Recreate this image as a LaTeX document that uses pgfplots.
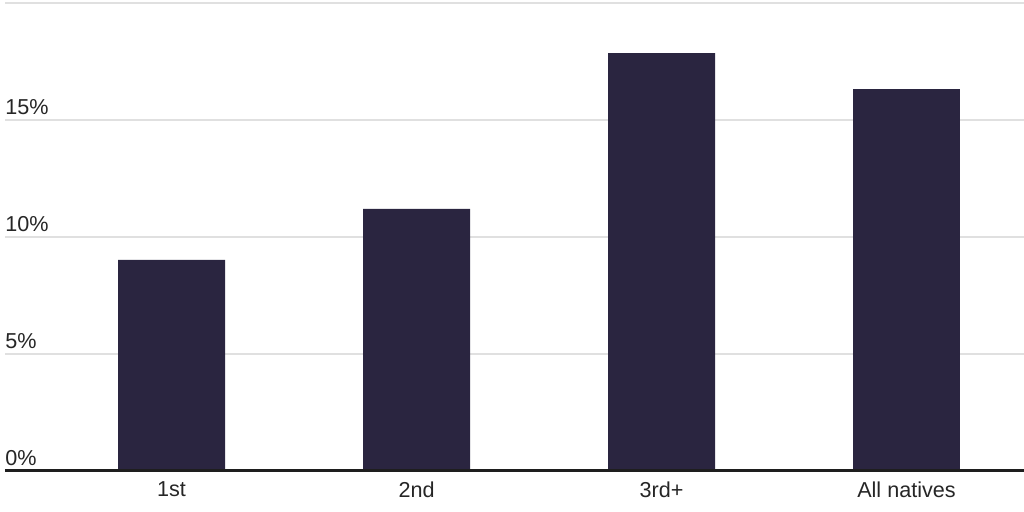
\documentclass[border=0pt]{standalone}
\usepackage{fontspec}
\setmainfont{Liberation Sans}
\usepackage{pgfplots}
\pgfplotsset{compat=1.18}
\definecolor{barc}{RGB}{42,37,64}
\definecolor{gridc}{RGB}{224,224,224}
\definecolor{basec}{RGB}{30,30,30}
\begin{document}
\begin{tikzpicture}
\useasboundingbox (0pt,0pt) rectangle (512pt,256pt);
\begin{axis}[
  at={(2.5pt,20.5pt)}, anchor=south west,
  scale only axis, width=509.5pt, height=234pt,
  xmin=-0.68, xmax=3.4796, ymin=0, ymax=20,
  axis x line*=bottom, axis y line*=left, axis line style={draw=none},
  xtick={0,1,2,3}, xticklabels={1st,2nd,3rd+,All natives},
  ytick={0,5,10,15,20}, yticklabels={0\%,5\%,10\%,15\%,},
  major tick length=0pt,
  ymajorgrids, grid style={gridc, line width=0.7pt},
  /pgf/number format/assume math mode=true,
  tick label style={font=\fontsize{10.8}{13}\selectfont, text=black!85},
  yticklabel style={anchor=south west, inner sep=0pt, xshift=0pt, yshift=2.5pt},
  xticklabel style={anchor=north, inner sep=0pt, yshift=-5pt},
  clip=false,
]
\addplot[ybar, bar width=0.4367, fill=barc, draw=none] coordinates {(0,9.02) (1,11.2) (2,17.86) (3,16.32)};
\draw[basec, line width=1.5pt] (rel axis cs:0,0) -- (rel axis cs:1,0);
\end{axis}
\end{tikzpicture}
\end{document}
